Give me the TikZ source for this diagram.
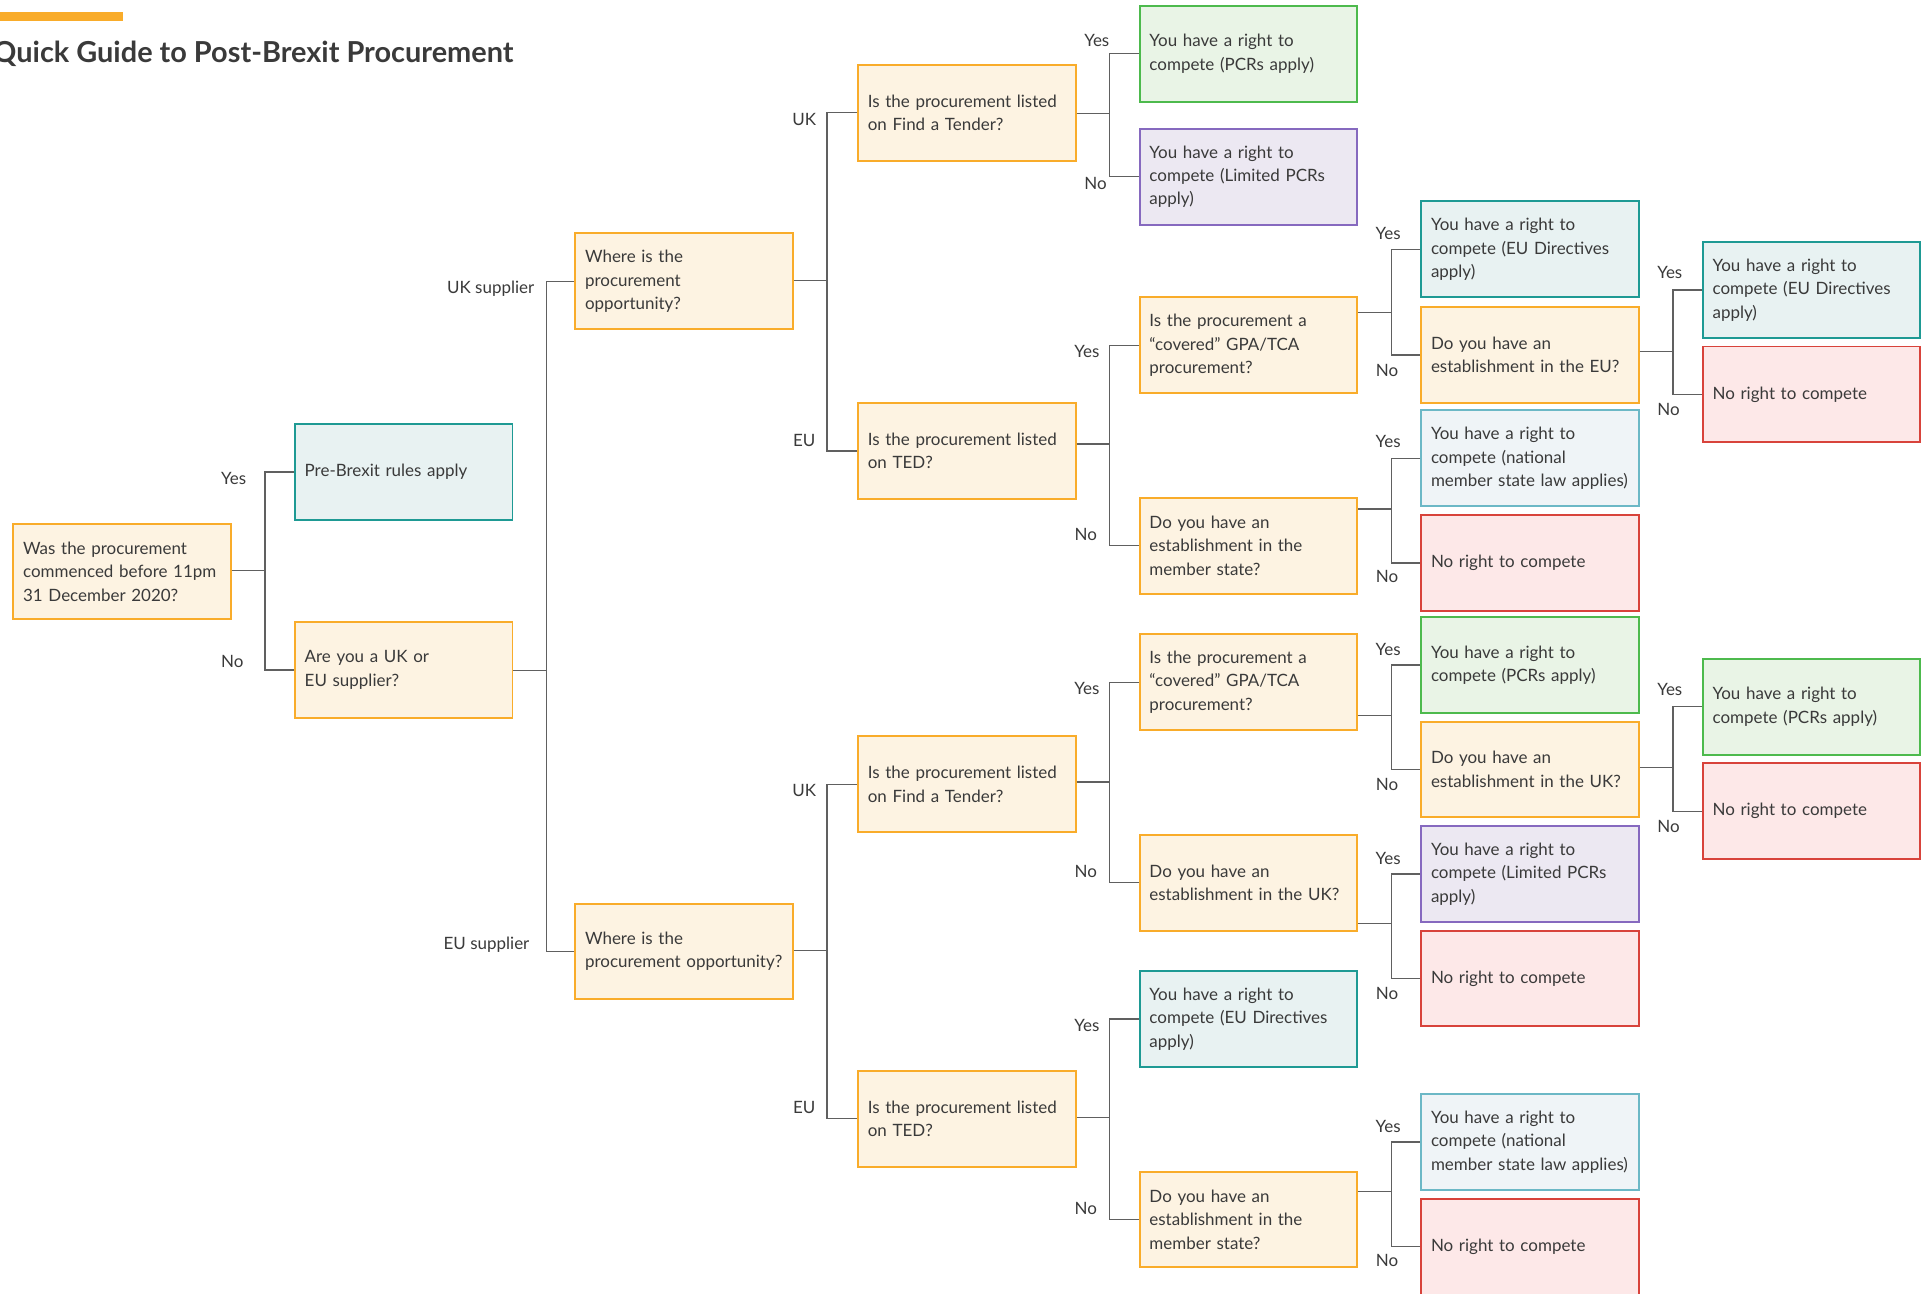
\documentclass[tikz,border=0pt]{standalone}
\usepackage{fontspec}
\setmainfont{Lato}
\definecolor{ink}{HTML}{3A3A3A}
\definecolor{wire}{HTML}{606060}
\definecolor{askline}{HTML}{F9AC2A}
\definecolor{askfill}{HTML}{FDF3E2}
\definecolor{tealline}{HTML}{1E9A94}
\definecolor{tealfill}{HTML}{E8F2F2}
\definecolor{greenline}{HTML}{4DBA4D}
\definecolor{greenfill}{HTML}{E9F4E6}
\definecolor{purpleline}{HTML}{8669BF}
\definecolor{purplefill}{HTML}{ECE8F2}
\definecolor{blueline}{HTML}{6CB8C6}
\definecolor{bluefill}{HTML}{EFF4F7}
\definecolor{redline}{HTML}{D8433B}
\definecolor{redfill}{HTML}{FDE8E8}
\tikzset{
    every picture/.style={line width=1pt},
    box/.style={rectangle,draw,line width=1.6pt,anchor=north west,
        minimum width=177pt,minimum height=78pt,text width=161pt,
        inner xsep=8pt,inner ysep=0pt,align=left,text=ink,
        font=\fontsize{13.8}{19}\selectfont},
    ask/.style={box,draw=askline,fill=askfill},
    eudir/.style={box,draw=tealline,fill=tealfill},
    pcrs/.style={box,draw=greenline,fill=greenfill},
    limited/.style={box,draw=purpleline,fill=purplefill},
    national/.style={box,draw=blueline,fill=bluefill},
    noright/.style={box,draw=redline,fill=redfill},
    link/.style={draw=wire,line width=1pt},
    lbl/.style={inner sep=0pt,text=ink,font=\fontsize{13.8}{16}\selectfont}
}
\begin{document}
\begin{tikzpicture}[x=1pt,y=-1pt]
    \useasboundingbox (0,0) rectangle (1568,1052);

    % Heading
    \fill[askline] (0,10) rectangle (100,17);
    \node[anchor=base west,inner sep=0pt,text=ink,font=\fontsize{23.5}{27}\selectfont\bfseries] (title) at (-6,51)
        {Quick Guide to Post-Brexit Procurement};

    % First questions
    \node[ask] (q0) at (10,425) {Was the procurement\\commenced before 11pm\\31 December 2020?};
    \node[eudir] (pre) at (239,344) {Pre-Brexit rules apply};
    \node[ask] (sup) at (239,505) {Are you a UK or\\EU supplier?};
    \node[ask] (wuk) at (467,189) {Where is the\\procurement\\opportunity?};
    \node[ask] (weu) at (467,734) {Where is the\\procurement opportunity?};

    % Where is it listed
    \node[ask] (ft1) at (697,52) {Is the procurement listed\\on Find a Tender?};
    \node[ask] (ted1) at (697,327) {Is the procurement listed\\on TED?};
    \node[ask] (ft2) at (697,598) {Is the procurement listed\\on Find a Tender?};
    \node[ask] (ted2) at (697,870) {Is the procurement listed\\on TED?};

    % Fifth column
    \node[pcrs] (pcr1) at (926,4) {You have a right to\\compete (PCRs apply)};
    \node[limited] (lim1) at (926,104) {You have a right to\\compete (Limited PCRs\\apply)};
    \node[ask] (cov1) at (926,241) {Is the procurement a\\“covered” GPA/TCA\\procurement?};
    \node[ask] (est1) at (926,404) {Do you have an\\establishment in the\\member state?};
    \node[ask] (cov2) at (926,515) {Is the procurement a\\“covered” GPA/TCA\\procurement?};
    \node[ask] (est2) at (926,678) {Do you have an\\establishment in the UK?};
    \node[eudir] (dir2) at (926,789) {You have a right to\\compete (EU Directives\\apply)};
    \node[ask] (est3) at (926,952) {Do you have an\\establishment in the\\member state?};

    % Sixth column
    \node[eudir] (dir1) at (1155,163) {You have a right to\\compete (EU Directives\\apply)};
    \node[ask] (eu1) at (1155,249) {Do you have an\\establishment in the EU?};
    \node[national] (nat1) at (1155,333) {You have a right to\\compete (national\\member state law applies)};
    \node[noright] (no1) at (1155,418) {No right to compete};
    \node[pcrs] (pcr2) at (1155,501) {You have a right to\\compete (PCRs apply)};
    \node[ask] (uk1) at (1155,586) {Do you have an\\establishment in the UK?};
    \node[limited] (lim2) at (1155,671) {You have a right to\\compete (Limited PCRs\\apply)};
    \node[noright] (no2) at (1155,756) {No right to compete};
    \node[national] (nat2) at (1155,889) {You have a right to\\compete (national\\member state law applies)};
    \node[noright] (no3) at (1155,974) {No right to compete};

    % Last column
    \node[eudir] (dir3) at (1384,196) {You have a right to\\compete (EU Directives\\apply)};
    \node[noright] (no4) at (1384,281) {No right to compete};
    \node[pcrs] (pcr3) at (1384,535) {You have a right to\\compete (PCRs apply)};
    \node[noright] (no5) at (1384,620) {No right to compete};

    % Forks: parent / height of the join / upper child / lower child
    \foreach \p/\y/\a/\b in {q0/464/pre/sup, sup/545/wuk/weu,
            wuk/228/ft1/ted1, weu/773/ft2/ted2,
            ft1/92/pcr1/lim1, ted1/361/cov1/est1, ft2/636/cov2/est2, ted2/909/dir2/est3,
            cov1/254/dir1/eu1, est1/414/nat1/no1, cov2/582/pcr2/uk1,
            est2/751/lim2/no2, est3/969/nat2/no3,
            eu1/286/dir3/no4, uk1/624/pcr3/no5} {
        \path (\p.east) ++(27,0) coordinate (j0);
        \coordinate (j) at (j0 |- 0,\y);
        \draw[link] (\p.east |- j) -- (j);
        \draw[link] (j) |- (\a.west);
        \draw[link] (j) |- (\b.west);
    }

    % Branch labels
    \node[lbl,anchor=east] (lsuk) at (435,235) {UK supplier};
    \node[lbl,anchor=east] (lseu) at (431,768) {EU supplier};
    \foreach \t/\x/\y [count=\i] in {Yes/190/389, No/189/538,
            UK/654/97, EU/654/358, UK/654/643, EU/654/901,
            Yes/892/33, No/891/149, Yes/884/286, No/883/435,
            Yes/884/560, No/883/709, Yes/884/834, No/883/983,
            Yes/1129/190, No/1128/301, Yes/1129/359, No/1128/469,
            Yes/1129/528, No/1128/638, Yes/1129/698, No/1128/808,
            Yes/1129/916, No/1128/1025,
            Yes/1358/222, No/1357/333, Yes/1358/561, No/1357/672}
        \node[lbl] (lab\i) at (\x,\y) {\t};
\end{tikzpicture}
\end{document}
